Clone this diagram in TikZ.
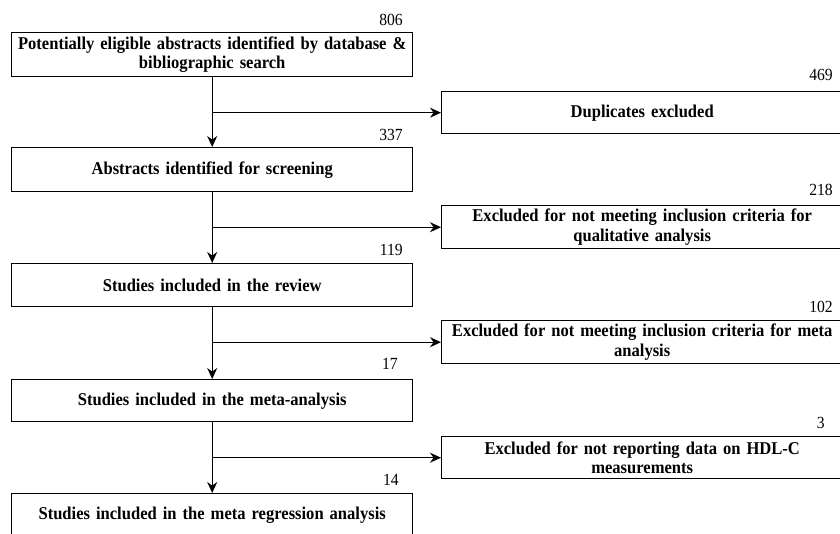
\documentclass[tikz,border=0pt]{standalone}
\usepackage{fontspec}
\setmainfont{Liberation Serif}
\newfontfamily\flowfont[FakeStretch=0.92]{Liberation Serif}
\usetikzlibrary{positioning,arrows.meta}

\begin{document}
\begin{tikzpicture}[x=1pt,y=-1pt,
		box/.style={draw,line width=1.4pt,anchor=north west,minimum width=401pt,minimum height=43pt,text width=401pt,align=center,inner sep=0pt,font=\flowfont\bfseries\fontsize{18}{19.5}\selectfont},
		num/.style={anchor=east,inner sep=0pt,font=\flowfont\fontsize{17}{18}\selectfont},
		arr/.style={-{Stealth[length=11pt,width=10pt]},line width=1.2pt}]
		\useasboundingbox (0,0) rectangle (840,534);
		%Main boxes
		\node[box,minimum height=44pt] (abs) at (11,32) {Potentially eligible abstracts identified by database \&\\ bibliographic search};
		\node[box,minimum height=44pt] (screen) at (11,147) {Abstracts identified for screening};
		\node[box] (review) at (11,263) {Studies included in the review};
		\node[box,minimum height=42pt] (meta) at (11,379) {Studies included in the meta-analysis};
		\node[box,minimum height=44pt] (regr) at (11,493) {Studies included in the meta regression analysis};
		%Excluded boxes
		\node[box,minimum height=42pt] (dup) at (441,91) {Duplicates excluded};
		\node[box] (exqual) at (441,205) {Excluded for not meeting inclusion criteria for\\ qualitative analysis};
		\node[box] (exmeta) at (441,320) {Excluded for not meeting inclusion criteria for meta\\ analysis};
		\node[box,minimum height=42pt] (exhdl) at (441,436) {Excluded for not reporting data on HDL-C\\ measurements};
		%Numbers
		\node[num] at (403,20) {806};
		\node[num] at (403,135) {337};
		\node[num] at (403,250) {119};
		\node[num] at (398,364) {17};
		\node[num] at (399,480) {14};
		\node[num] at (833,75) {469};
		\node[num] at (833,190) {218};
		\node[num] at (833,307) {102};
		\node[num] at (825,423) {3};
		%Arrows
		\draw[arr] (abs) -- (screen);
		\draw[arr] (screen) -- (review);
		\draw[arr] (review) -- (meta);
		\draw[arr] (meta) -- (regr);
		\draw[arr] (abs.south |- dup.west) -- (dup.west);
		\draw[arr] (screen.south |- exqual.west) -- (exqual.west);
		\draw[arr] (review.south |- exmeta.west) -- (exmeta.west);
		\draw[arr] (meta.south |- exhdl.west) -- (exhdl.west);
\end{tikzpicture}
\end{document}
